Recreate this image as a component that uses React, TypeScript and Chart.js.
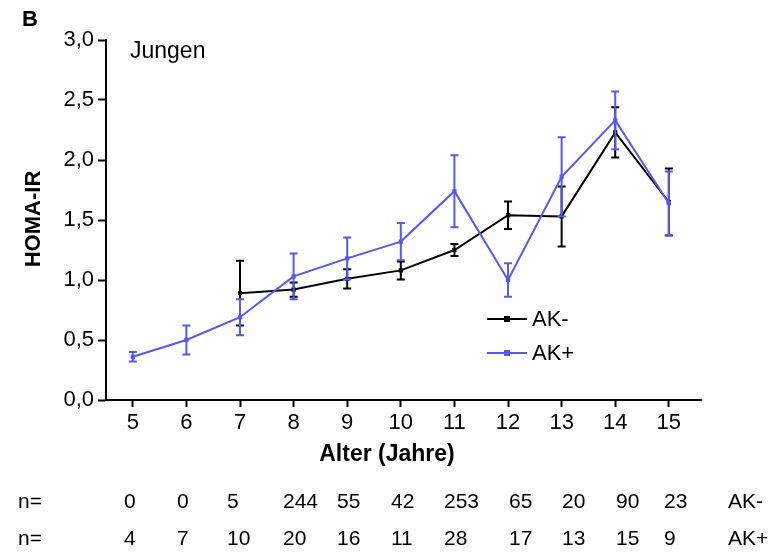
import React, { useEffect, useRef } from "react";
import { Chart, registerables } from "chart.js";

Chart.register(...registerables);

// ---- data ----
const AGES = [5, 6, 7, 8, 9, 10, 11, 12, 13, 14, 15];
const AK_MINUS = [null, null, 0.89, 0.92, 1.01, 1.08, 1.25, 1.54, 1.53, 2.23, 1.65];
const AK_MINUS_ERR = [null, null, 0.27, 0.06, 0.08, 0.075, 0.05, 0.115, 0.25, 0.21, 0.28];
const AK_PLUS = [0.36, 0.5, 0.69, 1.03, 1.18, 1.32, 1.74, 1.0, 1.86, 2.33, 1.64];
const AK_PLUS_ERR = [0.04, 0.12, 0.15, 0.19, 0.175, 0.155, 0.3, 0.14, 0.33, 0.24, 0.265];
const N_MINUS = ["0", "0", "5", "244", "55", "42", "253", "65", "20", "90", "23"];
const N_PLUS = ["4", "7", "10", "20", "16", "11", "28", "17", "13", "15", "9"];
const Y_TICKS = [0, 0.5, 1, 1.5, 2, 2.5, 3];
const SERIES_LABELS = ["AK-", "AK+"];

// ---- layout / style ----
const BLUE = "#5858f0";
const BLACK = "#000000";
const FONT = "'Liberation Sans', Arial, Helvetica, sans-serif";
const N_COL_LEFT = [124, 177, 227, 283, 337, 391, 444, 509, 562, 616, 664];

const errorBarPlugin = {
  id: "errorBars",
  afterDatasetDraw(chart: any, args: any) {
    const ds = chart.data.datasets[args.index];
    const errs: (number | null)[] = ds.errs;
    if (!errs) return;
    const meta = args.meta;
    const ys = chart.scales.y;
    const ctx = chart.ctx;
    ctx.save();
    ctx.strokeStyle = ds.borderColor;
    ctx.lineWidth = 2;
    meta.data.forEach((pt: any, i: number) => {
      const raw = ds.data[i];
      const e = errs[i];
      if (!raw || raw.y == null || e == null) return;
      const x = pt.x;
      const yt = ys.getPixelForValue(raw.y + e);
      const yb = ys.getPixelForValue(raw.y - e);
      ctx.beginPath();
      ctx.moveTo(x, yt);
      ctx.lineTo(x, yb);
      ctx.moveTo(x - 4, yt);
      ctx.lineTo(x + 4, yt);
      ctx.moveTo(x - 4, yb);
      ctx.lineTo(x + 4, yb);
      ctx.stroke();
    });
    ctx.restore();
  },
};

const textPlugin = {
  id: "texts",
  afterDraw(chart: any) {
    const ctx = chart.ctx;
    ctx.save();
    ctx.fillStyle = "#000";
    ctx.textBaseline = "alphabetic";
    // panel letter
    ctx.font = `bold 22px ${FONT}`;
    ctx.textAlign = "left";
    ctx.fillText("B", 22, 26);
    // subtitle
    ctx.font = `23px ${FONT}`;
    ctx.fillText("Jungen", 130, 58);
    // y title
    ctx.save();
    ctx.translate(40, 219);
    ctx.rotate(-Math.PI / 2);
    ctx.font = `bold 22px ${FONT}`;
    ctx.textAlign = "center";
    ctx.fillText("HOMA-IR", 0, 0);
    ctx.restore();
    // x title
    ctx.font = `bold 23px ${FONT}`;
    ctx.textAlign = "center";
    ctx.fillText("Alter (Jahre)", 387, 461);
    // n rows
    ctx.font = `21px ${FONT}`;
    ctx.textAlign = "left";
    const rows = [N_MINUS, N_PLUS];
    rows.forEach((row, r) => {
      const y = 508 + r * 37;
      ctx.fillText("n=", 18, y);
      row.forEach((v, i) => ctx.fillText(v, N_COL_LEFT[i], y));
      ctx.fillText(SERIES_LABELS[r], 728, y);
    });
    // legend
    const colors = [BLACK, BLUE];
    colors.forEach((c, r) => {
      const y = 319 + r * 34;
      ctx.strokeStyle = c;
      ctx.fillStyle = c;
      ctx.lineWidth = 2;
      ctx.beginPath();
      ctx.moveTo(487, y);
      ctx.lineTo(527, y);
      ctx.stroke();
      ctx.fillRect(504, y - 3, 6, 6);
      ctx.fillStyle = "#000";
      ctx.font = `22px ${FONT}`;
      ctx.textBaseline = "middle";
      ctx.fillText(SERIES_LABELS[r], 532, y + 1);
    });
    ctx.restore();
  },
};

export default function App() {
  const ref = useRef<HTMLCanvasElement | null>(null);
  useEffect(() => {
    document.body.style.margin = "0";
    const canvas = ref.current!;
    const toPts = (vals: (number | null)[]) => AGES.map((a, i) => ({ x: a, y: vals[i] }));
    const chart = new Chart(canvas, {
      type: "line",
      data: {
        datasets: [
          {
            label: SERIES_LABELS[0],
            data: toPts(AK_MINUS),
            errs: AK_MINUS_ERR,
            borderColor: BLACK,
            backgroundColor: BLACK,
            borderWidth: 2,
            pointStyle: "rect",
            pointRadius: 3,
            pointBorderWidth: 0,
            spanGaps: false,
            order: 1,
          } as any,
          {
            label: SERIES_LABELS[1],
            data: toPts(AK_PLUS),
            errs: AK_PLUS_ERR,
            borderColor: BLUE,
            backgroundColor: BLUE,
            borderWidth: 2,
            pointStyle: "rect",
            pointRadius: 3,
            pointBorderWidth: 0,
            order: 0,
          } as any,
        ],
      },
      options: {
        animation: false,
        responsive: false,
        maintainAspectRatio: false,
        layout: { padding: { left: 0, top: 40, right: 69, bottom: 0 } },
        plugins: { legend: { display: false }, tooltip: { enabled: false } },
        scales: {
          x: {
            type: "linear",
            min: 4.5,
            max: 15.6,
            afterBuildTicks: (s: any) => {
              s.ticks = AGES.map((v) => ({ value: v }));
            },
            afterFit: (s: any) => {
              s.height = 153;
            },
            grid: {
              drawOnChartArea: false,
              drawTicks: true,
              tickLength: 7,
              tickWidth: 2,
              tickColor: "#000",
            },
            border: { display: true, color: "#000", width: 2 },
            ticks: {
              color: "#000",
              font: { family: FONT, size: 22 },
              padding: 3,
              maxRotation: 0,
              autoSkip: false,
            },
          },
          y: {
            type: "linear",
            min: 0,
            max: 3,
            afterBuildTicks: (s: any) => {
              s.ticks = Y_TICKS.map((v) => ({ value: v }));
            },
            afterFit: (s: any) => {
              s.width = 106;
            },
            grid: {
              drawOnChartArea: false,
              drawTicks: true,
              tickLength: 8,
              tickWidth: 2,
              tickColor: "#000",
            },
            border: { display: true, color: "#000", width: 2 },
            ticks: {
              color: "#000",
              font: { family: FONT, size: 22 },
              padding: 4,
              callback: (v: any) => Number(v).toFixed(1).replace(".", ","),
            },
          },
        },
      },
      plugins: [errorBarPlugin, textPlugin],
    });
    return () => chart.destroy();
  }, []);
  return (
    <div style={{ width: 770, height: 553 }}>
      <canvas ref={ref} width={770} height={553} style={{ display: "block" }} />
    </div>
  );
}
